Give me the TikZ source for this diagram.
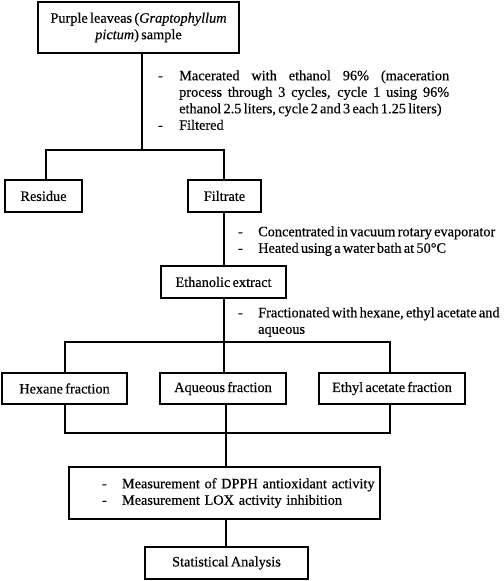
\documentclass[tikz,border=0pt]{standalone}
\usepackage{fontspec}
\setmainfont{Liberation Serif}[FakeBold=0.4]
\usepackage{array}
\newcommand\txtfont{\fontsize{14.3bp}{16.5bp}\selectfont\spaceskip=0.16em plus 0.3em minus 0.03em\relax}
\begin{document}
\begin{tikzpicture}[x=1bp,y=-1bp,
  txt/.style={font=\txtfont},
  box/.style={txt,draw,line width=1.8bp,inner sep=0pt,align=center},
  anno/.style={txt,inner sep=0pt},
  conn/.style={line width=1.7bp}]
\useasboundingbox (0,0) rectangle (504,581);
% boxes
\node[box,minimum width=201bp,minimum height=51bp] (top) at (138.5,27.5)
  {Purple leaveas (\textit{Graptophyllum}\\ \textit{pictum}) sample};
\node[box,minimum width=77bp,minimum height=32bp] (res) at (43.5,196) {Residue};
\node[box,minimum width=73bp,minimum height=32bp] (fil) at (224.5,196) {Filtrate};
\node[box,minimum width=125bp,minimum height=32bp] (eth) at (223.5,282) {Ethanolic extract};
\node[box,minimum width=125bp,minimum height=31bp] (hex) at (64.5,388.5) {Hexane fraction};
\node[box,minimum width=126bp,minimum height=31bp] (aq) at (223,388.5) {Aqueous fraction};
\node[box,minimum width=146bp,minimum height=31bp] (ea) at (392,388.5) {Ethyl acetate fraction};
\node[box,minimum width=311bp,minimum height=52bp,text width=311bp,align=left] (meas) at (224.5,493)
  {\hspace*{33bp}\makebox[20bp][l]{-}Measurement of DPPH antioxidant activity\\
   \hspace*{33bp}\makebox[20bp][l]{-}Measurement LOX activity inhibition};
\node[box,minimum width=163bp,minimum height=32bp] (stat) at (226.5,563) {Statistical Analysis};
% annotations
\node[anno,anchor=north west] (n1) at (158,68.5)
  {\begin{tabular}{@{}p{21bp}@{}p{270bp}@{}}
   -& Macerated with ethanol 96\% (maceration\linebreak process through 3 cycles, cycle 1 using 96\%\linebreak ethanol 2.5 liters, cycle 2 and 3 each 1.25 liters)\\
   -& Filtered
   \end{tabular}};
\node[anno,anchor=north west] (n2) at (238,224.5)
  {\begin{tabular}{@{}p{20bp}@{}l@{}}
   -& Concentrated in vacuum rotary evaporator\\
   -& Heated using a water bath at 50°C
   \end{tabular}};
\node[anno,anchor=north west] (n3) at (238,305.5)
  {\begin{tabular}{@{}p{20bp}@{}l@{}}
   -& Fractionated with hexane, ethyl acetate and\\
    & aqueous
   \end{tabular}};
% connectors
\coordinate (j1) at (142,150);
\coordinate (j1l) at (46,150);
\coordinate (j1r) at (224,150);
\draw[conn] (top.south -| j1) -- (j1);
\draw[conn] (res.north -| j1l) -- (j1l) -- (j1r) -- (fil.north -| j1r);
\draw[conn] (fil.south -| j1r) -- (eth.north -| j1r);
\coordinate (j2) at (224,342);
\coordinate (j2l) at (65,342);
\coordinate (j2r) at (390,342);
\draw[conn] (eth.south -| j2) -- (j2);
\draw[conn] (hex.north -| j2l) -- (j2l) -- (j2r) -- (ea.north -| j2r);
\draw[conn] (j2) -- (aq.north -| j2);
\coordinate (j3) at (226,433);
\coordinate (j3l) at (65,433);
\coordinate (j3r) at (390,433);
\draw[conn] (hex.south -| j3l) -- (j3l) -- (j3r) -- (ea.south -| j3r);
\draw[conn] (aq.south -| j3) -- (j3) -- (meas.north -| j3);
\draw[conn] (meas.south -| j3) -- (stat.north -| j3);
\end{tikzpicture}
\end{document}
